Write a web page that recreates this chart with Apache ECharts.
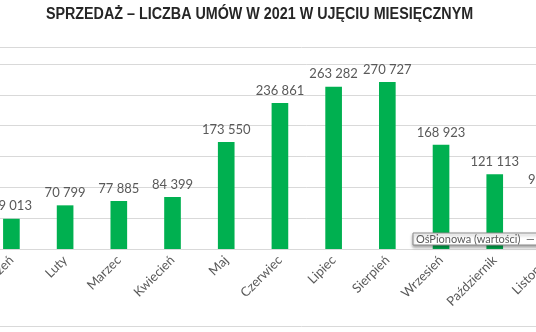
<!DOCTYPE html>
<html><head><meta charset="utf-8">
<script src="https://cdn.jsdelivr.net/npm/echarts@6/dist/echarts.min.js"></script>
<style>html,body{margin:0;padding:0;background:#fff;overflow:hidden;width:536px;height:332px;position:relative}#c{position:absolute;left:-26px;top:0;width:655px;height:332px}</style>
</head><body><div id="c"></div>
<script>
const titleText = 'SPRZEDAŻ – LICZBA UMÓW W 2021 W UJĘCIU MIESIĘCZNYM';
const categories = ['Styczeń','Luty','Marzec','Kwiecień','Maj','Czerwiec','Lipiec','Sierpień','Wrzesień','Październik','Listopad','Grudzień'];
const contracts = [49013, 70799, 77885, 84399, 173550, 236861, 263282, 270727, 168923, 121113, 92250, 85000];
const yMin = 0, yMax = 300000, yStep = 50000;
const hoverBoxText = 'OśPionowa (wartości)  — g';

const OX = 26; // container offset (page is a cropped view of a wider chart)
const fmt = v => String(v).replace(/\B(?=(\d{3})+(?!\d))/g, ' ');
const chart = echarts.init(document.getElementById('c'), null, {renderer:'canvas'});
chart.setOption({
  animation:false,
  backgroundColor:'#ffffff',
  grid:{left:0, right:0, top:64, bottom:83, containLabel:false},
  xAxis:{type:'category', data:categories,
    axisLine:{lineStyle:{color:'#d9d9d9', width:1}}, axisTick:{show:false},
    axisLabel:{rotate:45, margin:9, color:'#595959', fontFamily:'Lato', fontSize:13, interval:0}},
  yAxis:{type:'value', min:yMin, max:yMax, interval:yStep,
    axisLabel:{show:false}, axisLine:{show:false}, axisTick:{show:false},
    splitLine:{lineStyle:{color:'#d9d9d9', width:1}}},
  series:[{type:'bar', data:contracts, barWidth:'31%',
    itemStyle:{color:'#00b050'},
    label:{show:true, position:'top', distance:6, color:'#595959', fontFamily:'Lato', fontSize:13,
      formatter:p=>fmt(p.value)}}],
  graphic:[
    {type:'line', z:50, shape:{x1:0,y1:47.5,x2:655,y2:47.5}, style:{stroke:'#d9d9d9', lineWidth:1}},
    {type:'line', z:50, shape:{x1:0,y1:326.5,x2:655,y2:326.5}, style:{stroke:'#d9d9d9', lineWidth:1}},
    {type:'text', z:50, x:259.5+OX, y:15, scaleX:0.895, originX:0, originY:0,
      style:{text:titleText, fill:'#262626', align:'center', verticalAlign:'middle', font:'bold 16px "Liberation Sans", sans-serif'}},
    {type:'rect', z:100, shape:{x:413+OX,y:233,width:140,height:12}, style:{fill:'#ffffff', stroke:'#8c8c8c', lineWidth:1, shadowBlur:3, shadowColor:'rgba(0,0,0,0.35)', shadowOffsetY:2}},
    {type:'text', z:101, x:416+OX, y:233.5, style:{text:hoverBoxText, fill:'#595959', font:'11px Lato'}}
  ]
});
</script></body></html>
